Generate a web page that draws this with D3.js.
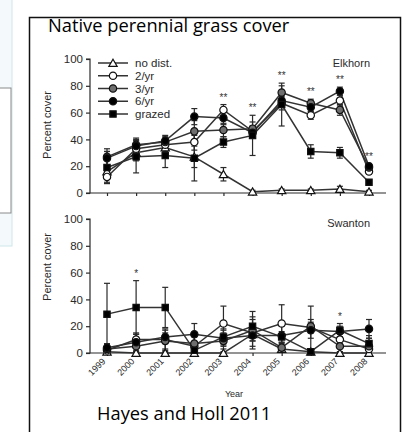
<!DOCTYPE html>
<html><head><meta charset="utf-8">
<script src="https://cdn.jsdelivr.net/npm/d3@7"></script>
<style>html,body{margin:0;padding:0;background:#fff;overflow:hidden}</style>
</head><body>
<svg id="c" width="413" height="432"></svg>
<script>
const years = [1999,2000,2001,2002,2003,2004,2005,2006,2007,2008];
const seriesNames = ["no dist.","2/yr","3/yr","6/yr","grazed"];
const yTicks = [0,20,40,60,80,100];

// Elkhorn (top panel)
const elkNoDist = [16,30,34,27,14,1,2,2,3,1];
const elk2yr    = [12,33,36,38,62,46,67,58,69,16];
const elk3yr    = [27,36,38,46,47,48,75,67,62,19];
const elk6yr    = [26,35,39,57,56,45,69,64,76,20];
const elkGrazed = [19,27,28,26,38,43,66,31,30,8];
const elkErrNoDist = [5,6,5,8,5,1,1,1,2,1];
const elkErr2yr    = [4,6,5,6,4,4,5,3,4,2];
const elkErr3yr    = [6,5,4,8,5,5,5,3,4,2];
const elkErr6yr    = [5,5,4,6,5,4,4,3,3,2];
const elkErrGrazed = [12,12,9,17,4,15,16,5,4,2];
const elkSig = ["","","","","**","**","**","**","**","**"];

// Swanton (bottom panel)
const swaNoDist = [1,0,0,0,0,14,3,1,0,0];
const swa2yr    = [2,10,10,5,22,15,22,19,10,3];
const swa3yr    = [3,5,9,7,9,17,4,20,5,5];
const swa6yr    = [4,8,12,14,11,13,13,17,16,18];
const swaGrazed = [29,34,34,2,12,20,12,1,17,7];
const swaErrNoDist = [1,1,1,1,1,3,2,1,1,1];
const swaErr2yr    = [3,5,8,7,13,12,14,16,5,8];
const swaErr3yr    = [3,4,6,6,6,8,3,5,4,4];
const swaErr6yr    = [3,6,5,8,6,8,7,6,4,7];
const swaErrGrazed = [23,20,15,2,6,11,4,2,5,6];
const swaSig = ["","*","","","","","","","*",""];

const svg = d3.select("#c");
const ink = "#2a2a2a";
const fontAx = "Liberation Sans, Arial, sans-serif";
const fontTitle = "Open Sans, Lato, sans-serif";

// page decorations
svg.append("rect").attr("x",-2).attr("y",-2).attr("width",14).attr("height",248)
  .attr("fill","#f4fafb").attr("stroke","#cfe6ea").attr("stroke-width",1);
svg.append("rect").attr("x",-2).attr("y",88).attr("width",13).attr("height",125)
  .attr("fill","#fff").attr("stroke","#8a8a8a").attr("stroke-width",1);
svg.append("rect").attr("x",29.5).attr("y",17.5).attr("width",371).attr("height",430)
  .attr("fill","#fff").attr("stroke","#111").attr("stroke-width",1.5);

svg.append("text").attr("x",48).attr("y",32).text("Native perennial grass cover")
  .attr("font-family",fontTitle).attr("font-size",18.3).attr("fill","#000");
svg.append("text").attr("x",97).attr("y",420).text("Hayes and Holl 2011")
  .attr("font-family",fontTitle).attr("font-size",18.3).attr("fill","#000");

const x = d3.scalePoint().domain(years).range([107,369]);

const markers = [
  {name:"no dist.", shape:d3.symbolTriangle, size:30, fill:"#fff"},
  {name:"2/yr", shape:d3.symbolCircle, size:42, fill:"#fff"},
  {name:"3/yr", shape:d3.symbolCircle, size:42, fill:"#6e6e6e"},
  {name:"6/yr", shape:d3.symbolCircle, size:42, fill:"#000"},
  {name:"grazed", shape:d3.symbolSquare, size:40, fill:"#000"}
];

function panel(y0, y1, vals, errs, sig, site, legend, labelY) {
  const y = d3.scaleLinear().domain([0,100]).range([y0,y1]);
  const g = svg.append("g");
  // y axis
  const ya = g.append("g").attr("transform","translate(90,0)")
    .call(d3.axisLeft(y).tickValues(yTicks).tickSize(4).tickPadding(3));
  ya.select(".domain").attr("stroke",ink).attr("stroke-width",1.2).attr("d",`M-4,${y(100)}H0V${y(0)}H-4`);
  ya.selectAll(".tick line").attr("stroke",ink).attr("stroke-width",1.2);
  ya.selectAll("text").attr("font-family",fontAx).attr("font-size",11.5).attr("fill",ink);
  // x axis
  const xa = g.append("g").attr("transform",`translate(0,${y0})`)
    .call(d3.axisBottom(x).tickSize(3).tickFormat(""));
  xa.select(".domain").attr("stroke",ink).attr("stroke-width",1.2).attr("d","M90,0H386");
  xa.selectAll(".tick line").attr("stroke",ink).attr("stroke-width",1.2);
  // y label
  g.append("text").attr("transform",`translate(51,${labelY}) rotate(-90)`)
    .attr("text-anchor","middle").attr("font-family",fontAx).attr("font-size",11)
    .attr("fill",ink).text("Percent cover");
  g.append("text").attr("x",370).attr("y",y1+8).attr("text-anchor","end")
    .attr("font-family",fontAx).attr("font-size",11).attr("fill",ink).text(site);
  // error bars
  vals.forEach((s,si)=>{
    s.forEach((v,i)=>{
      const e = errs[si][i];
      const cx = x(years[i]);
      g.append("line").attr("x1",cx).attr("x2",cx).attr("y1",y(Math.max(0,v-e))).attr("y2",y(v+e))
        .attr("stroke",ink).attr("stroke-width",1.2);
      [v+e, Math.max(0,v-e)].forEach(t=>{
        g.append("line").attr("x1",cx-3).attr("x2",cx+3).attr("y1",y(t)).attr("y2",y(t))
          .attr("stroke",ink).attr("stroke-width",1.2);
      });
    });
  });
  // lines
  const line = d3.line().x((d,i)=>x(years[i])).y(d=>y(d));
  vals.forEach(s=>{
    g.append("path").attr("d",line(s)).attr("fill","none").attr("stroke","#333").attr("stroke-width",1.5);
  });
  // markers
  vals.forEach((s,si)=>{
    const m = markers[si];
    s.forEach((v,i)=>{
      g.append("path").attr("d",d3.symbol().type(m.shape).size(m.size)())
        .attr("transform",`translate(${x(years[i])},${y(v)+(si===0?1:0)})`)
        .attr("fill",m.fill).attr("stroke","#111").attr("stroke-width",1.2);
    });
  });
  // significance
  sig.forEach((s,i)=>{
    if(!s) return;
    const top = d3.max(vals.map((sv,si)=>sv[i]+errs[si][i]));
    g.append("text").attr("x",x(years[i])).attr("y",y(top)-4).attr("text-anchor","middle")
      .attr("font-family",fontAx).attr("font-size",10).attr("fill","#333").text(s);
  });
  // legend
  if(legend){
    const ly = d3.scalePoint().domain(seriesNames).range([63,114]);
    seriesNames.forEach((n,si)=>{
      const m = markers[si];
      g.append("line").attr("x1",98).attr("x2",128).attr("y1",ly(n)).attr("y2",ly(n))
        .attr("stroke","#333").attr("stroke-width",1.5);
      g.append("path").attr("d",d3.symbol().type(m.shape).size(m.size)())
        .attr("transform",`translate(113,${ly(n)+(si===0?1:0)})`)
        .attr("fill",m.fill).attr("stroke","#111").attr("stroke-width",1.2);
      g.append("text").attr("x",135).attr("y",ly(n)+4).attr("font-family",fontAx)
        .attr("font-size",11.5).attr("fill",ink).text(n);
    });
  }
  return y;
}

panel(193, 59, [elkNoDist,elk2yr,elk3yr,elk6yr,elkGrazed],
  [elkErrNoDist,elkErr2yr,elkErr3yr,elkErr6yr,elkErrGrazed], elkSig, "Elkhorn", true, 125);
panel(353, 219, [swaNoDist,swa2yr,swa3yr,swa6yr,swaGrazed],
  [swaErrNoDist,swaErr2yr,swaErr3yr,swaErr6yr,swaErrGrazed], swaSig, "Swanton", false, 267);

// year labels
svg.append("g").selectAll("text").data(years).join("text")
  .attr("transform",d=>`translate(${x(d)-1},362) rotate(-45)`)
  .attr("text-anchor","end").attr("font-family",fontAx).attr("font-size",9)
  .attr("fill",ink).text(d=>d);
svg.append("text").attr("x",234).attr("y",397).attr("text-anchor","middle")
  .attr("font-family",fontAx).attr("font-size",9).attr("fill",ink).text("Year");
</script>
</body></html>
